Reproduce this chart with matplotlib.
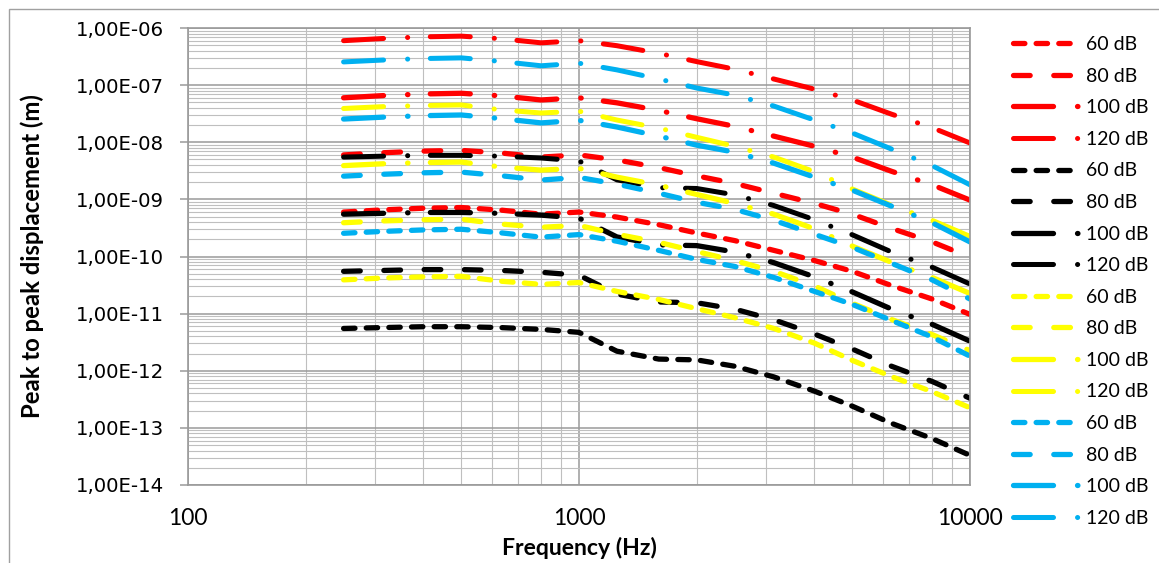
import matplotlib
matplotlib.use("Agg")
import matplotlib.pyplot as plt
import matplotlib.patches as mpatches
from matplotlib.ticker import LogLocator, FuncFormatter, NullFormatter, FixedLocator
import numpy as np

# ---------------- data ----------------
freq = [250, 315, 400, 500, 630, 800, 1000, 1250, 1600, 2000, 2500,
        3150, 4000, 5000, 6300, 8000, 10000]

levels = ["60 dB", "80 dB", "100 dB", "120 dB"]
# each +20 dB step moves a curve up exactly one decade in the reference
level_factor = [1, 10, 100, 1000]

# 60 dB curves (m)
red_60 = [6.0e-10, 6.55e-10, 7.0e-10, 7.2e-10, 6.5e-10, 5.5e-10, 6.0e-10,
          4.9e-10, 3.6e-10, 2.58e-10, 1.9e-10, 1.28e-10, 8.5e-11, 5.5e-11,
          3.1e-11, 1.8e-11, 9.7e-12]
black_60 = [5.5e-12, 5.7e-12, 5.9e-12, 5.9e-12, 5.7e-12, 5.3e-12, 4.7e-12,
            2.2e-12, 1.6e-12, 1.55e-12, 1.2e-12, 7.8e-13, 4.4e-13, 2.4e-13,
            1.2e-13, 6.5e-14, 3.3e-14]
yellow_60 = [3.9e-11, 4.2e-11, 4.4e-11, 4.5e-11, 3.7e-11, 3.25e-11, 3.5e-11,
             2.45e-11, 1.77e-11, 1.22e-11, 8.5e-12, 5.5e-12, 3.05e-12,
             1.52e-12, 7.9e-13, 4.3e-13, 2.25e-13]
blue_60 = [2.55e-10, 2.75e-10, 2.92e-10, 3.0e-10, 2.6e-10, 2.18e-10, 2.42e-10,
           1.85e-10, 1.28e-10, 8.9e-11, 6.7e-11, 4.3e-11, 2.45e-11, 1.45e-11,
           7.6e-12, 3.9e-12, 1.8e-12]

groups = [("#FF0000", red_60), ("#000000", black_60),
          ("#FFFF00", yellow_60), ("#00B0F0", blue_60)]

# ---------------- style ----------------
plt.rcParams["lines.scale_dashes"] = False
plt.rcParams["font.family"] = ["Lato", "DejaVu Sans"]

LW = 3.8  # pt
dash_styles = [
    (0, (8.2, 8.1)),               # 60 dB : dash
    (0, (12.0, 17.0)),             # 80 dB : long dash
    (0, (28.8, 17.3, 0.3, 16.1)),  # 100 dB : long dash dot
    (0, (28.8, 17.3, 0.1, 16.3)),  # 120 dB : long dash dot
]
level_lw = [LW, LW, LW, LW * 0.95]

W, H = 1159, 563
fig = plt.figure(figsize=(W / 100, H / 100), dpi=100)
ax = fig.add_axes([188 / W, 1 - 485 / H, (970 - 188) / W, (485 - 28) / H])

handles = []
labels = []
for color, base in groups:
    for lev, fac, ls, lw in zip(levels, level_factor, dash_styles, level_lw):
        vals = np.array(base) * fac
        ln, = ax.plot(freq, vals, color=color, lw=lw, linestyle=ls,
                      dash_capstyle="round", solid_capstyle="round")
        handles.append(ln)
        labels.append(lev)

ax.set_xscale("log")
ax.set_yscale("log")
ax.set_xlim(100, 10000)
ax.set_ylim(1e-14, 1e-6)

ax.xaxis.set_major_locator(FixedLocator([100, 1000, 10000]))
ax.xaxis.set_minor_locator(LogLocator(base=10, subs=np.arange(2, 10), numticks=20))
ax.xaxis.set_major_formatter(FuncFormatter(lambda v, p: f"{int(round(v))}"))
ax.xaxis.set_minor_formatter(NullFormatter())

ax.yaxis.set_major_locator(LogLocator(base=10, numticks=20))
ax.yaxis.set_minor_locator(LogLocator(base=10, subs=np.arange(2, 10), numticks=20))


def yfmt(v, pos):
    e = int(round(np.log10(v)))
    return "1,00E" + ("-" if e < 0 else "+") + f"{abs(e):02d}"


ax.yaxis.set_major_formatter(FuncFormatter(yfmt))
ax.yaxis.set_minor_formatter(NullFormatter())

ax.grid(True, which="major", color="#9a9a9a", lw=1.1)
ax.grid(True, which="minor", color="#bfbfbf", lw=0.8)
ax.set_axisbelow(True)

for sp in ax.spines.values():
    sp.set_color("#9a9a9a")
    sp.set_linewidth(1.2)

ax.tick_params(axis="y", which="major", length=5.8, width=1.1, color="#9a9a9a",
               direction="out", pad=11.5)
ax.tick_params(axis="y", which="minor", length=0)
ax.tick_params(axis="x", which="both", length=0, pad=16.5)
for t in ax.get_yticklabels():
    t.set_fontfamily("DejaVu Sans")
    t.set_fontsize(14.2)
for t in ax.get_xticklabels():
    t.set_fontsize(16.5)

ax.set_xlabel("Frequency (Hz)", fontsize=16.6, fontweight="bold")
ax.xaxis.set_label_coords(0.5, (485 - 537) / 457)
ax.set_ylabel("Peak to peak displacement (m)", fontsize=17.2, fontweight="bold")
ax.yaxis.set_label_coords((44 - 188) / 782, 0.5)

leg = ax.legend(handles, labels, loc="upper left",
                bbox_to_anchor=(1013 / W, 1 - 36 / H),
                bbox_transform=fig.transFigure, frameon=False,
                borderpad=0, borderaxespad=0, handlelength=3.45,
                handletextpad=0.3, labelspacing=0.75,
                prop={"family": "Lato", "size": 14})

# chart-area border
fig.patches.append(mpatches.Rectangle((9 / W, -0.2), 2, 1 - 9 / H + 0.2,
                                      transform=fig.transFigure, fill=False,
                                      edgecolor="#a0a0a0", lw=1.0))

fig.savefig("out.png", dpi=100)
